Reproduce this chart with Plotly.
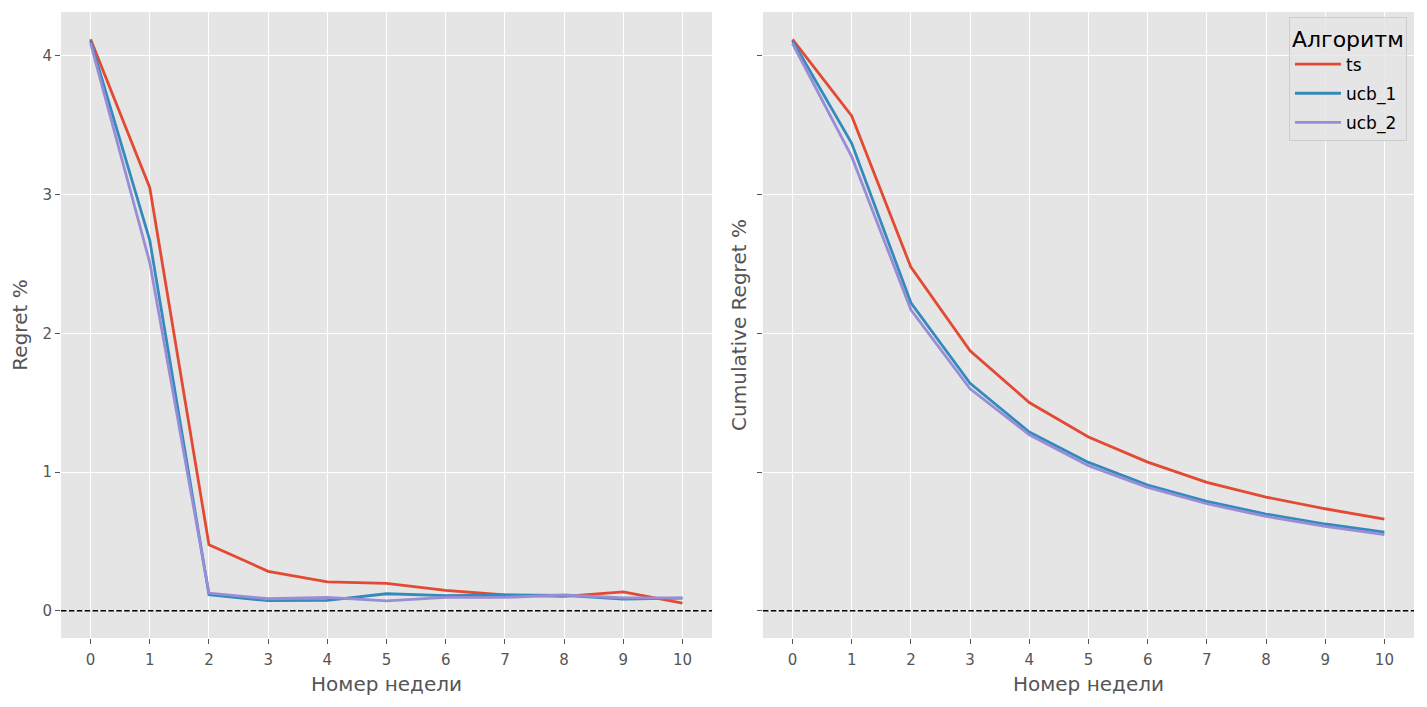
import plotly.graph_objects as go
from plotly.subplots import make_subplots

weeks = list(range(11))
algorithms = ["ts", "ucb_1", "ucb_2"]

regret_ts = [4.12, 3.05, 0.476, 0.284, 0.207, 0.197, 0.146, 0.113, 0.103, 0.135, 0.055]
regret_ucb_1 = [4.11, 2.67, 0.115, 0.072, 0.074, 0.122, 0.108, 0.114, 0.110, 0.084, 0.091]
regret_ucb_2 = [4.09, 2.51, 0.127, 0.086, 0.096, 0.070, 0.096, 0.096, 0.113, 0.093, 0.093]

cum_ts = [4.12, 3.568, 2.477, 1.874, 1.501, 1.252, 1.071, 0.925, 0.819, 0.735, 0.661]
cum_ucb_1 = [4.11, 3.37, 2.22, 1.64, 1.288, 1.069, 0.906, 0.788, 0.697, 0.625, 0.567]
cum_ucb_2 = [4.09, 3.274, 2.17, 1.60, 1.268, 1.045, 0.889, 0.771, 0.680, 0.608, 0.548]

y_ticks = [0, 1, 2, 3, 4]
baseline = 0

colors = {"ts": "#E24A33", "ucb_1": "#348ABD", "ucb_2": "#988ED5"}
regret = {"ts": regret_ts, "ucb_1": regret_ucb_1, "ucb_2": regret_ucb_2}
cum = {"ts": cum_ts, "ucb_1": cum_ucb_1, "ucb_2": cum_ucb_2}

FONT = "DejaVu Sans"
GRAY = "#555555"

fig = make_subplots(rows=1, cols=2, horizontal_spacing=0.0376)

for alg in algorithms:
    fig.add_trace(go.Scatter(x=weeks, y=regret[alg], mode="lines", name=alg,
                             line=dict(color=colors[alg], width=2.8),
                             showlegend=False), row=1, col=1)
for alg in algorithms:
    fig.add_trace(go.Scatter(x=weeks, y=cum[alg], mode="lines", name=alg,
                             legendgroup=alg,
                             line=dict(color=colors[alg], width=2.8),
                             showlegend=True), row=1, col=2)

for xr, yr in [("x domain", "y"), ("x2 domain", "y2")]:
    fig.add_shape(type="line", xref=xr, yref=yr, x0=0, x1=1, y0=baseline, y1=baseline,
                  line=dict(color="black", width=1.5, dash="5.5px,2.4px"))

axis_common = dict(showgrid=True, gridcolor="white", gridwidth=1.2, zeroline=False,
                   ticks="outside", ticklen=5, tickcolor=GRAY, tickwidth=1,
                   tickfont=dict(family=FONT, size=15, color=GRAY), showline=False,
                   automargin=False)

for c in (1, 2):
    fig.update_xaxes(range=[-0.5, 10.5], tickmode="array", tickvals=weeks,
                     ticklabelstandoff=3,
                     title=dict(text="Номер недели", font=dict(family=FONT, size=20, color=GRAY), standoff=8),
                     row=1, col=c, **axis_common)

fig.update_yaxes(range=[-0.197, 4.317], tickmode="array", tickvals=y_ticks,
                 title=dict(text="Regret %", font=dict(family=FONT, size=20, color=GRAY), standoff=9),
                 row=1, col=1, **axis_common)
fig.update_yaxes(range=[-0.197, 4.317], tickmode="array", tickvals=y_ticks,
                 showticklabels=False, matches="y",
                 title=dict(text="Cumulative Regret %", font=dict(family=FONT, size=20, color=GRAY), standoff=4),
                 row=1, col=2, **axis_common)

fig.update_layout(
    width=1419, height=699,
    margin=dict(l=53, r=13, t=4, b=69),
    paper_bgcolor="white", plot_bgcolor="#E5E5E5",
    font=dict(family=FONT, color=GRAY),
    legend=dict(x=0.9948, y=0.992, xanchor="right", yanchor="top",
                bgcolor="rgba(229,229,229,0.85)", bordercolor="#CCCCCC", borderwidth=1,
                title=dict(text="Алгоритм", font=dict(family=FONT, size=22, color="black")),
                font=dict(family=FONT, size=17, color="black"),
                itemwidth=46, tracegroupgap=4),
)

fig.write_html("out.html")
